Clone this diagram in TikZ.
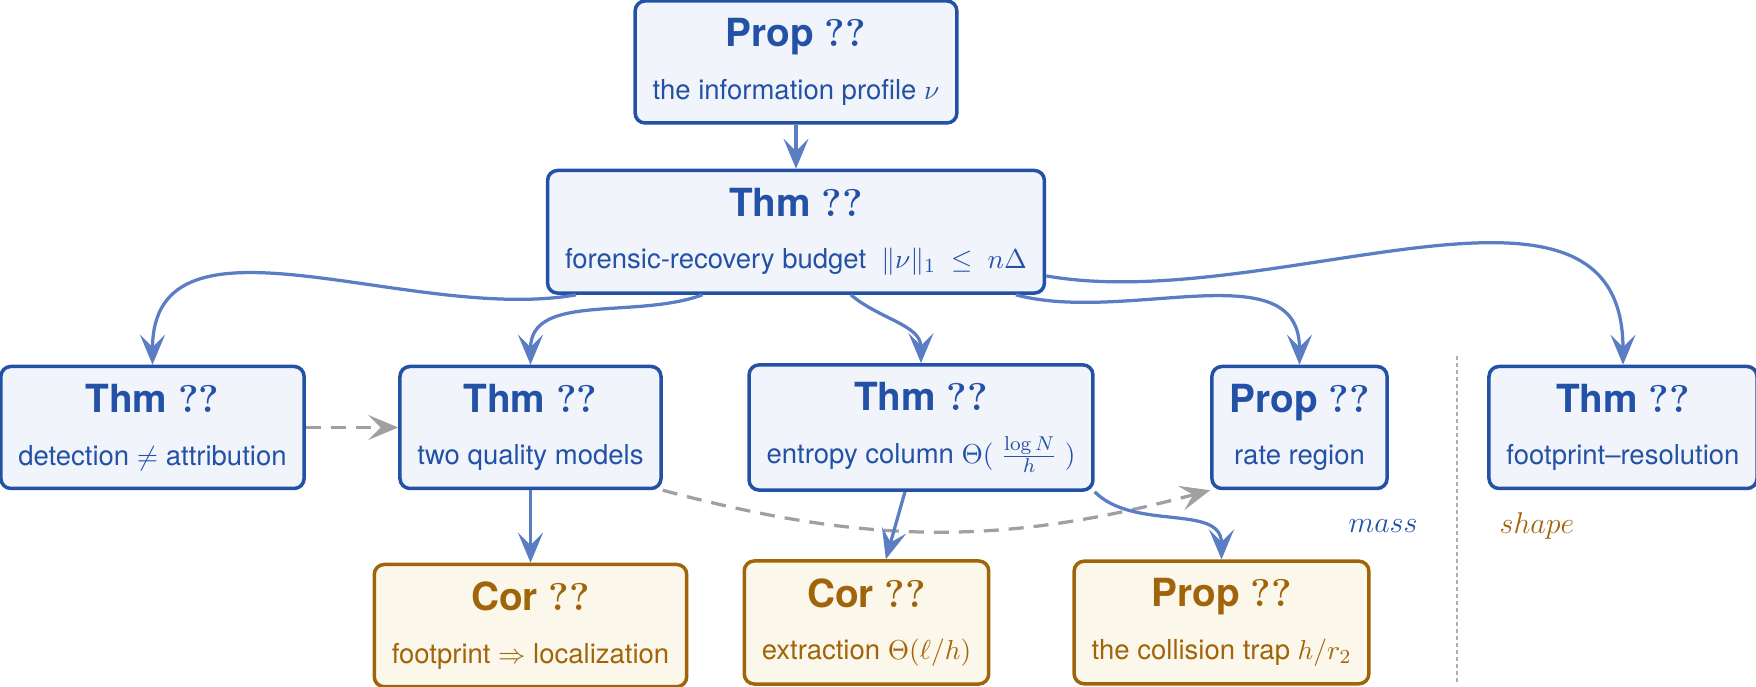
\documentclass[tikz,border=0pt]{standalone}
\usepackage{amsmath,amssymb}
\usepackage[no-math]{fontspec}
\setsansfont{TeX Gyre Heros}
\usetikzlibrary{arrows.meta,positioning}
\definecolor{thmink}{HTML}{2351A6}
\definecolor{thmfill}{HTML}{F1F5FB}
\definecolor{corink}{HTML}{A0650A}
\definecolor{corfill}{HTML}{FCF7EB}
\definecolor{edge}{HTML}{5A7DC4}
\definecolor{weak}{HTML}{A0A0A0}
\newcommand{\hd}[1]{{\fontsize{15.5}{18}\selectfont\bfseries #1~\rmfamily ??}}

\begin{document}
\begin{tikzpicture}[x=40pt,y=40pt,
  thm/.style={rectangle,rounded corners=4pt,draw=thmink,fill=thmfill,text=thmink,
    line width=1.4pt,minimum height=48.8pt,inner xsep=7pt,inner ysep=7pt,
    align=center,font=\sffamily\fontsize{11}{13}\selectfont},
  cor/.style={thm,draw=corink,fill=corfill,text=corink},
  arr/.style={-{Stealth[length=12pt,width=10pt,inset=5pt]},line width=1.3pt,color=edge},
  weakarr/.style={arr,color=weak,dash pattern=on 6pt off 4pt},
]
  \useasboundingbox (0,0) rectangle (17.56,6.87);
  \node[thm] (prof) at (7.96,6.25) {\hd{Prop}\\[8pt] the information profile $\nu$};
  \node[thm,below=17.6pt of prof] (budget)
    {\hd{Thm}\\[8pt] forensic-recovery budget\ \ $\|\nu\|_1\;\le\;n\Delta$};
  \node[thm] (detect) at (1.525,2.595) {\hd{Thm}\\[8pt] detection $\neq$ attribution};
  \node[thm] (twoq) at (5.305,2.595) {\hd{Thm}\\[8pt] two quality models};
  \node[thm] (entropy) at (9.21,2.595) {\hd{Thm}\\[8pt] entropy column $\Theta(\;\frac{\log N}{h}\;)$};
  \node[thm] (rate) at (12.995,2.595) {\hd{Prop}\\[8pt] rate region};
  \node[thm] (fpres) at (16.23,2.595) {\hd{Thm}\\[8pt] footprint--resolution};
  \node[cor,below=29pt of twoq] (corfp) {\hd{Cor}\\[8pt] footprint $\Rightarrow$ localization};
  \node[cor] (corext) at (8.665,0.645) {\hd{Cor}\\[8pt] extraction $\Theta(\ell/h)$};
  \node[cor] (coll) at (12.215,0.645) {\hd{Prop}\\[8pt] the collision trap $h/r_2$};
  \node[text=thmink,font=\large] (lblmass) at (13.83,1.61) {$mass$};
  \node[text=corink,font=\large] (lblshape) at (15.37,1.61) {$shape$};
  \draw[weak!85,line width=0.6pt,dash pattern=on 1.6pt off 1.2pt] (14.57,3.31) -- (14.57,0.04);
  \draw[arr] (prof) -- (budget);
  \draw[arr] (budget.196) to[out=190,in=90] (detect.north);
  \draw[arr] (budget.214) to[out=200,in=90] (twoq.north);
  \draw[arr] (budget.311) to[out=-40,in=90] (entropy.north);
  \draw[arr] (budget.344) to[out=-15,in=90] (rate.north);
  \draw[arr] (budget.350) to[out=-10,in=90] (fpres.north);
  \draw[weakarr] (detect) -- (twoq);
  \draw[weakarr] (twoq.south east) to[bend right=15] (rate.south west);
  \draw[arr] (twoq) -- (corfp);
  \draw[arr] (entropy.256) -- (corext.73);
  \draw[arr] (entropy.south east) to[out=-45,in=90] (coll.north);
\end{tikzpicture}
\end{document}
